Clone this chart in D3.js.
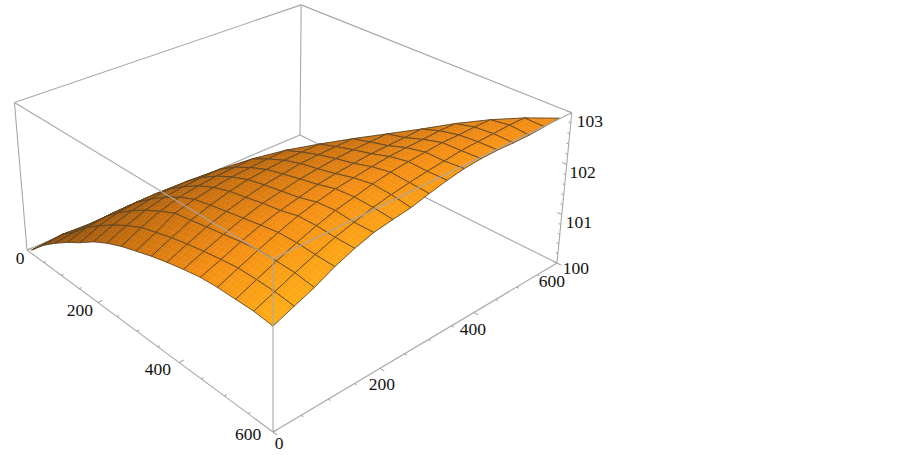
<!DOCTYPE html>
<html>
<head>
<meta charset="utf-8">
<script src="https://cdnjs.cloudflare.com/ajax/libs/d3/7.8.5/d3.min.js"></script>
<style>
  html, body { margin: 0; background: #fff; }
  text { font-family: "Liberation Serif", serif; font-size: 17.5px; fill: #111; }
</style>
</head>
<body>
<script>
// mesh positions
const xGrid = [15, 52, 88, 125, 161, 198, 234, 271, 307, 344, 380, 417, 454, 490, 527, 563, 600];
const yGrid = [0, 36, 71, 107, 143, 178, 214, 249, 285, 321, 356, 392, 428, 463, 499, 534, 570];

// the surface only covers y <= x: row j holds xGrid[j] .. xGrid[16]
const zRows = [
  [100.08, 100.37, 100.60, 100.81, 100.99, 101.20, 101.36, 101.49, 101.59, 101.69, 101.77, 101.84, 101.90, 101.92, 101.92, 101.92, 101.88],
  [100.43, 100.66, 100.94, 101.16, 101.36, 101.53, 101.68, 101.77, 101.86, 101.93, 101.99, 102.04, 102.08, 102.08, 102.07, 102.03],
  [100.69, 101.00, 101.26, 101.48, 101.67, 101.83, 101.97, 102.02, 102.08, 102.13, 102.19, 102.23, 102.23, 102.22, 102.17],
  [101.02, 101.31, 101.55, 101.76, 101.94, 102.07, 102.14, 102.20, 102.26, 102.32, 102.37, 102.38, 102.36, 102.35],
  [101.32, 101.59, 101.81, 102.00, 102.14, 102.24, 102.30, 102.37, 102.42, 102.50, 102.51, 102.49, 102.49],
  [101.60, 101.84, 102.04, 102.19, 102.31, 102.38, 102.44, 102.50, 102.59, 102.62, 102.59, 102.60],
  [101.85, 102.06, 102.22, 102.35, 102.43, 102.51, 102.58, 102.67, 102.70, 102.69, 102.66],
  [102.08, 102.24, 102.38, 102.48, 102.55, 102.63, 102.72, 102.78, 102.76, 102.71],
  [102.26, 102.39, 102.50, 102.59, 102.67, 102.77, 102.84, 102.82, 102.80],
  [102.40, 102.51, 102.61, 102.70, 102.81, 102.88, 102.87, 102.88],
  [102.52, 102.62, 102.71, 102.83, 102.91, 102.91, 102.94],
  [102.63, 102.72, 102.84, 102.94, 102.95, 102.97],
  [102.74, 102.86, 102.94, 102.97, 102.98],
  [102.86, 102.95, 102.98, 102.97],
  [102.95, 103.00, 102.97],
  [103.00, 102.99],
  [103.01]
];

const xTicks = [0, 200, 400, 600];
const yTicks = [0, 200, 400, 600];
const zTicks = [100, 101, 102, 103];
const xMinor = d3.range(0, 601, 50);
const yMinor = d3.range(0, 601, 50);
const zMinor = d3.range(100, 103.01, 0.2);

const width = 903, height = 455;

const svg = d3.select("body").append("svg")
    .attr("width", width)
    .attr("height", height)
    .style("display", "block");

// box coordinates: u runs front to left, v front to right, w floor to top
const uScale = d3.scaleLinear().domain([0, 600]).range([1, 0]);
const vScale = d3.scaleLinear().domain([0, 600]).range([0, 1]);
const wScale = d3.scaleLinear().domain([100, 103]).range([0, 1]);

// camera, fitted to the corners of the box
const O = [273, 432];
const uAxis = [-239.6, -122.75], vAxis = [400.4, -114], wAxis = [-16.4, -188.5];
const persp = [0.237, 0.209, -0.06];

function project(u, v, w) {
    const d = 1 + persp[0] * u + persp[1] * v + persp[2] * w;
    return [
        (O[0] + uAxis[0] * u + vAxis[0] * v + wAxis[0] * w) / d,
        (O[1] + uAxis[1] * u + vAxis[1] * v + wAxis[1] * w) / d
    ];
}
const at = (x, y, z) => project(uScale(x), vScale(y), wScale(z));

const line = d3.line();
const boxStroke = "#a8a8a8";

function edge(g, a, b) {
    g.append("path")
        .attr("d", line([a, b]))
        .attr("fill", "none")
        .attr("stroke", boxStroke)
        .attr("stroke-width", 1.1);
}

// back of the box, behind the surface
const back = svg.append("g");
edge(back, at(0, 600, 100), at(0, 0, 100));
edge(back, at(0, 600, 100), at(600, 600, 100));
edge(back, at(0, 600, 100), at(0, 600, 103));
edge(back, at(0, 600, 103), at(0, 0, 103));
edge(back, at(0, 600, 103), at(600, 600, 103));
edge(back, at(0, 0, 103), at(0, 0, 100));

// surface
const tone = d3.scaleLinear()
    .domain([0, 0.35, 0.7, 1])
    .range(["#854806", "#c26a0b", "#f58d12", "#ffae17"]);

const surface = svg.append("g");
const steps = 4;
const nx = xGrid.length - 1, ny = yGrid.length - 1;
const zNode = (i, j) => zRows[j][i - j];

// point inside cell (i, j), a and b run 0..1. Cells on the diagonal are triangles
function cellPoint(i, j, a, b) {
    const tri = i === j;
    const fb = tri ? a * b : b;
    const z = tri
        ? zNode(i, j) + a * (zNode(i + 1, j) - zNode(i, j)) + fb * (zNode(i + 1, j + 1) - zNode(i + 1, j))
        : (zNode(i, j) * (1 - a) + zNode(i + 1, j) * a) * (1 - b)
          + (zNode(i, j + 1) * (1 - a) + zNode(i + 1, j + 1) * a) * b;
    const x = xGrid[i] + (xGrid[i + 1] - xGrid[i]) * a;
    const y = yGrid[j] + (yGrid[j + 1] - yGrid[j]) * fb;
    return { p: at(x, y, z), s: (i + a) / nx, t: (j + fb) / ny };
}

// paint from the far corner to the near one
for (let i = 0; i < nx; i++) {
    for (let j = i; j >= 0; j--) {
        const cell = surface.append("g");
        for (let a = 0; a < steps; a++) {
            for (let b = steps - 1; b >= 0; b--) {
                const h = 1 / steps;
                const mid = cellPoint(i, j, (a + 0.5) * h, (b + 0.5) * h);
                const c = tone(Math.max(0, Math.pow(mid.s, 1.15) - 0.3 * mid.t));
                const corners = [[a, b], [a + 1, b], [a + 1, b + 1], [a, b + 1]]
                    .map(q => cellPoint(i, j, q[0] * h, q[1] * h).p);
                cell.append("path")
                    .attr("d", line(corners) + "Z")
                    .attr("fill", c)
                    .attr("stroke", c)
                    .attr("stroke-width", 0.4);
            }
        }
        const outline = [[0, 0], [1, 0], [1, 1], [0, 1]]
            .map(q => cellPoint(i, j, q[0], q[1]).p);
        cell.append("path")
            .attr("d", line(outline) + "Z")
            .attr("fill", "none")
            .attr("stroke", "#4f4230")
            .attr("stroke-opacity", 0.8)
            .attr("stroke-width", 1);
    }
}

// front of the box, over the surface
const front = svg.append("g");
edge(front, at(0, 0, 103), at(600, 0, 103));
edge(front, at(600, 0, 103), at(600, 600, 103));
edge(front, at(600, 0, 103), at(600, 0, 100));
edge(front, at(600, 600, 103), at(600, 600, 100));
edge(front, at(0, 0, 100), at(600, 0, 100));
edge(front, at(600, 0, 100), at(600, 600, 100));

// ticks
const axes = svg.append("g");
xMinor.forEach(x => {
    const len = xTicks.includes(x) ? 0.014 : 0.007;
    edge(axes, at(x, 0, 100), project(uScale(x), len, 0));
});
yMinor.forEach(y => {
    const len = yTicks.includes(y) ? 0.014 : 0.007;
    edge(axes, at(600, y, 100), project(-len, vScale(y), 0));
});
zMinor.forEach(z => {
    const len = zTicks.includes(Math.round(z * 100) / 100) ? 0.014 : 0.007;
    edge(axes, at(600, 600, z), project(len, 1, wScale(z)));
});

// labels, offset from their tick
const xLabelShift = [[-7, 14], [-18, 14], [-21, 13], [-25, 8]];
const yLabelShift = [[6, 17], [2, 22], [-1, 23], [-5, 24]];
const zLabelShift = [[19, 11], [17, 13], [16, 13], [18, 14]];

function labels(ticks, place, shifts) {
    svg.append("g").selectAll("text")
        .data(ticks)
        .join("text")
        .attr("text-anchor", "middle")
        .attr("x", (d, i) => place(d)[0] + shifts[i][0])
        .attr("y", (d, i) => place(d)[1] + shifts[i][1])
        .text(d => d);
}
labels(xTicks, d => at(d, 0, 100), xLabelShift);
labels(yTicks, d => at(600, d, 100), yLabelShift);
labels(zTicks, d => at(600, 600, d), zLabelShift);
</script>
</body>
</html>
